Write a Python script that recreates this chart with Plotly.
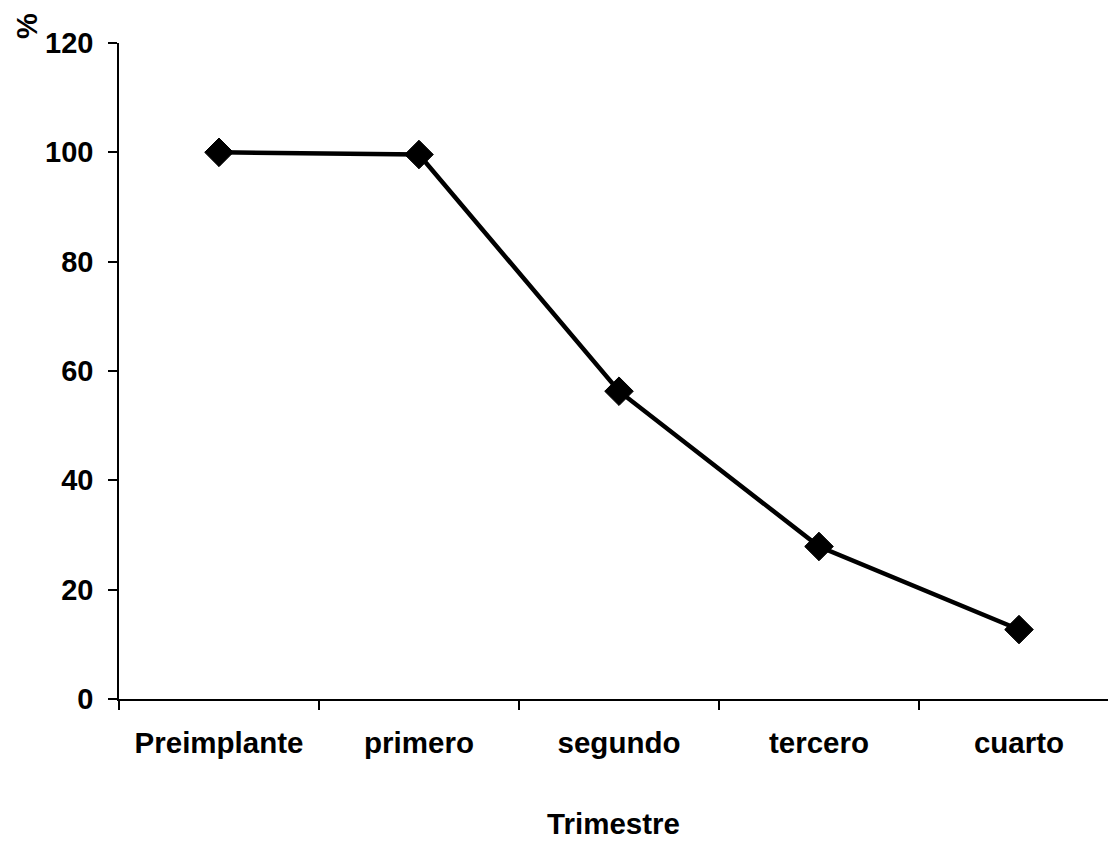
import plotly.graph_objects as go

categories = ["Preimplante", "primero", "segundo", "tercero", "cuarto"]
values = [100, 99.6, 56.3, 27.9, 12.7]
y_ticks = [0, 20, 40, 60, 80, 100, 120]

W, H = 1108, 842
ML, MR, MT, MB = 119, 0, 43, 143
pw = W - ML - MR
ph = H - MT - MB

fig = go.Figure()
fig.add_trace(go.Scatter(
    x=categories, y=values, mode="lines+markers",
    line=dict(color="black", width=4.5),
    marker=dict(symbol="diamond", size=22, color="black", line=dict(color="black", width=1)),
    showlegend=False, cliponaxis=False,
))

fam = "Liberation Sans, Arial, sans-serif"
xfont = dict(family=fam, size=29.5, color="black", weight="bold")
yfont = dict(family=fam, size=29, color="black", weight="bold")

fig.update_layout(
    width=W, height=H,
    margin=dict(l=ML, r=MR, t=MT, b=MB, pad=0),
    paper_bgcolor="white", plot_bgcolor="white",
    font=xfont,
    xaxis=dict(
        type="category", range=[-0.5, -0.5 + pw / 200.0],
        showline=True, linecolor="black", linewidth=1.5,
        ticks="outside", tickson="boundaries", ticklen=9, tickcolor="black", tickwidth=1.5,
        showgrid=False, zeroline=False, tickfont=xfont, ticklabelstandoff=17,
        title=dict(text="Trimestre", font=xfont, standoff=55),
    ),
    yaxis=dict(
        range=[0, 120], tickvals=y_ticks,
        showline=True, linecolor="black", linewidth=1.5,
        ticks="outside", ticklen=9, tickcolor="black", tickwidth=1.5,
        showgrid=False, zeroline=False, tickfont=yfont, ticklabelstandoff=9,
    ),
    annotations=[dict(
        text="%", textangle=-90, showarrow=False, font=yfont,
        xref="paper", yref="paper",
        x=(27 - ML) / pw, y=1 + (MT - 26) / ph,
        xanchor="center", yanchor="middle",
    )],
)

fig.write_html("out.html")
